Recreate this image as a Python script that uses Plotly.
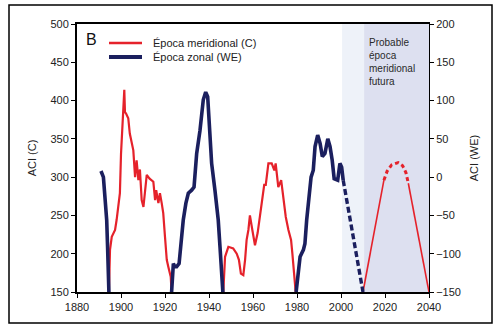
import plotly.graph_objects as go

# ---------------- data ----------------
# Meridional epochs, ACI (C), left axis
red1_years = [1894.5, 1895, 1895.8, 1897.3, 1898, 1899.5, 1900, 1900.7, 1901.2, 1901.5, 1901.8,
              1902.3, 1903.3, 1904, 1905.6, 1906, 1906.4, 1907.1, 1907.9, 1908.6, 1909.4, 1910.2,
              1911, 1911.7, 1913, 1914, 1914.7, 1915.5, 1916, 1917, 1917.7, 1918.5, 1919.2,
              1920, 1920.8, 1921.5, 1922.6, 1923]
red1_vals = [150, 205, 222, 231, 244, 279, 330, 365, 390, 414, 385,
             383, 377, 357, 335, 313, 300, 322, 296, 310, 270, 261,
             283, 303, 298, 296, 294, 270, 283, 266, 279, 266, 253,
             222, 192, 183, 170, 150]

red2_years = [1946.5, 1947.3, 1948.8, 1951, 1952.6, 1953.6, 1954.5, 1955.6, 1956.4, 1957.1,
              1957.9, 1958.6, 1959.7, 1960.9, 1962.1, 1963.2, 1964.2, 1965.1, 1965.8, 1967,
              1968.5, 1969.7, 1970.3, 1971.5, 1972.8, 1973.8, 1974.9, 1976.1, 1977.3, 1977.9,
              1978.8, 1979.4]
red2_vals = [150, 196, 209, 207, 200, 192, 174, 172, 192, 218,
             231, 250, 231, 211, 227, 253, 274, 290, 290, 318,
             318, 309, 318, 287, 296, 270, 248, 231, 218, 200,
             170, 150]

# Zonal epochs, ACI (WE), right axis
blue1_years = [1890.9, 1891.5, 1892, 1892.7, 1893.2, 1893.5, 1893.9, 1894.2, 1894.5]
blue1_vals = [8, 4, 0, -26, -40, -56, -91, -134, -150]

blue2_years = [1923, 1923.8, 1924.5, 1925.3, 1926.4, 1927.3, 1928.3, 1929.5, 1930.6, 1932.1,
               1933.2, 1934.4, 1935.9, 1937.4, 1938.5, 1939.4, 1940.5, 1941.2, 1942.7, 1944.2,
               1945, 1945.8, 1946.3]
blue2_vals = [-150, -113, -117, -117, -113, -87, -56, -34, -21, -17,
              -13, 31, 61, 101, 111, 105, 61, 18, -17, -56,
              -91, -126, -150]

blue3_years = [1979.6, 1980.6, 1981.4, 1982.9, 1983.6, 1984.4, 1985.5, 1986.4, 1987.4, 1988.2,
               1989.4, 1990.5, 1991.5, 1992.7, 1994, 1995, 1996, 1996.9, 1998.5, 1999.5,
               2000.3, 2001]
blue3_vals = [-150, -117, -104, -95, -87, -56, -21, 0, 9, 40,
              55, 44, 27, 31, 50, 40, 22, -2, -4, 18,
              13, -4]

# Projections
blue_proj_years = [2001, 2010]
blue_proj_vals = [-4, -150]

red_proj_up_years = [2010, 2013, 2016, 2019.5]
red_proj_up_vals = [150, 196, 242, 296]
red_proj_top_years = [2019.5, 2021, 2023, 2026, 2028, 2029.5, 2030.6]
red_proj_top_vals = [296, 308, 316, 319, 315, 306, 292]
red_proj_down_years = [2030.6, 2033, 2036, 2040]
red_proj_down_vals = [292, 256, 211, 150]

x_ticks = [1880, 1900, 1920, 1940, 1960, 1980, 2000, 2020, 2040]
y_ticks = [150, 200, 250, 300, 350, 400, 450, 500]
y2_ticks = [-150, -100, -50, 0, 50, 100, 150, 200]

legend_labels = ["Época meridional (C)", "Época zonal (WE)"]

RED = "#e5222b"
BLUE = "#1b1f5e"
FONT = "Arial, Liberation Sans, sans-serif"

fig = go.Figure()

# shaded future regions
fig.add_shape(type="rect", xref="x", yref="paper", x0=2000.5, x1=2010.5, y0=0, y1=1,
              fillcolor="#eef2f9", line_width=0, layer="below")
fig.add_shape(type="rect", xref="x", yref="paper", x0=2010.5, x1=2040, y0=0, y1=1,
              fillcolor="#dde0f0", line_width=0, layer="below")

def red(xs, ys, width=2.2, dash="solid"):
    fig.add_trace(go.Scatter(x=xs, y=ys, mode="lines", showlegend=False,
                             line=dict(color=RED, width=width, dash=dash), yaxis="y"))

def blue(xs, ys, width=3.6, dash="solid"):
    fig.add_trace(go.Scatter(x=xs, y=ys, mode="lines", showlegend=False,
                             line=dict(color=BLUE, width=width, dash=dash), yaxis="y2"))

red(red1_years, red1_vals)
blue(blue1_years, blue1_vals)
red(red2_years, red2_vals)
blue(blue2_years, blue2_vals)
blue(blue3_years, blue3_vals)
blue(blue_proj_years, blue_proj_vals, dash="6px,3px", width=3.4)
red(red_proj_up_years, red_proj_up_vals, width=1.6)
red(red_proj_top_years, red_proj_top_vals, width=3, dash="4px,3px")
red(red_proj_down_years, red_proj_down_vals, width=1.6)

# outer frame
def px_x(p):
    return (p - 77) / 352

def px_y(p):
    return (292 - p) / 268

fig.add_shape(type="rect", xref="paper", yref="paper",
              x0=px_x(9), x1=px_x(492), y0=px_y(323), y1=px_y(5),
              line=dict(color="black", width=1.5), fillcolor="rgba(0,0,0,0)")

# legend (drawn manually to match the reference key)
for label, color, width, ypx in [(legend_labels[0], RED, 2.5, 43), (legend_labels[1], BLUE, 4, 57)]:
    fig.add_shape(type="line", xref="paper", yref="paper",
                  x0=px_x(109), x1=px_x(142), y0=px_y(ypx), y1=px_y(ypx),
                  line=dict(color=color, width=width))
    fig.add_annotation(text=label, xref="paper", yref="paper", x=px_x(151), y=px_y(ypx - 0.5),
                       xanchor="left", yanchor="middle", showarrow=False,
                       font=dict(family=FONT, size=11, color="#222"))

fig.add_annotation(text="B", xref="paper", yref="paper", x=px_x(84), y=px_y(39),
                   xanchor="left", yanchor="middle", showarrow=False,
                   font=dict(family=FONT, size=16, color="#111"))
fig.add_annotation(text="Probable<br>época<br>meridional<br>futura", xref="x", yref="paper",
                   x=2011.8, y=px_y(35), xanchor="left", yanchor="top", align="left",
                   showarrow=False, font=dict(family=FONT, size=10, color="#2a2a2a"))

fig.update_layout(
    width=500, height=329,
    margin=dict(l=77, r=71, t=24, b=37),
    paper_bgcolor="white", plot_bgcolor="rgba(0,0,0,0)",
    font=dict(family=FONT, size=11, color="#222"),
    showlegend=False,
    xaxis=dict(range=[1880, 2040], tickvals=x_ticks, showgrid=False, zeroline=False,
               showline=True, linecolor="black", linewidth=2, mirror=True,
               ticks="outside", ticklen=4, tickcolor="black", tickwidth=1),
    yaxis=dict(range=[150, 500], tickvals=y_ticks, showgrid=False, zeroline=False,
               showline=True, linecolor="black", linewidth=2,
               ticks="outside", ticklen=4, tickcolor="black",
               title=dict(text="ACI (C)", standoff=12, font=dict(size=11))),
    yaxis2=dict(range=[-150, 200], tickvals=y2_ticks, overlaying="y", side="right",
                showgrid=False, zeroline=False, showline=True, linecolor="black", linewidth=1,
                ticks="outside", ticklen=4, tickcolor="black",
                title=dict(text="ACI (WE)", standoff=10, font=dict(size=11))),
)

fig.write_html("out.html")
